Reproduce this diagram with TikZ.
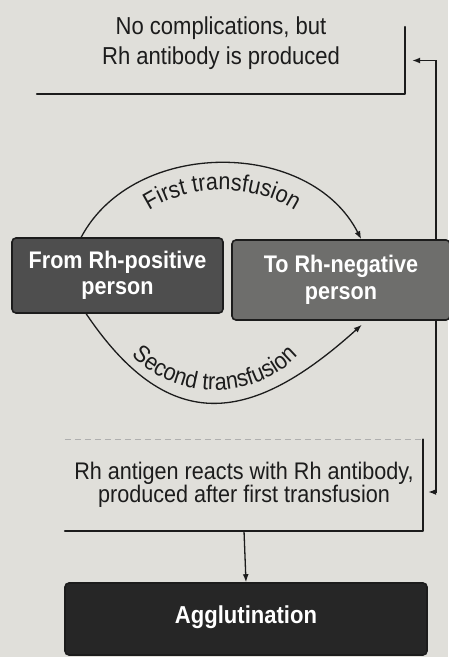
\documentclass[tikz,border=0pt]{standalone}
\usepackage{fontspec}
\setmainfont{Liberation Sans}[FakeStretch=0.9]
\usetikzlibrary{arrows.meta,decorations.text,calc}
\pgfdeclarelayer{paper}
\pgfdeclarelayer{background}
\pgfsetlayers{paper,background,main}

\definecolor{paper}{HTML}{E0DFDA}
\definecolor{ink}{HTML}{1C1C1C}
\definecolor{donorfill}{HTML}{4E4E4E}
\definecolor{recipfill}{HTML}{6E6E6C}
\definecolor{resultfill}{HTML}{262626}

\tikzset{
  label text/.style={align=center, text=ink, inner sep=0pt},
  dark box/.style={rounded corners=4pt, draw=ink, line width=1.6pt, text=white,
    align=center, inner sep=0pt, font=\bfseries\fontsize{24}{26.5}\selectfont},
  frame edge/.style={draw=ink, line width=1.8pt, line cap=round, line join=round},
  flow/.style={draw=ink, line width=1.3pt, -{Latex[length=8pt,width=6pt]}},
  rail/.style={draw=ink, line width=1.4pt,
    {Latex[length=8pt,width=6pt]}-{Latex[length=8pt,width=6pt]}},
}

\begin{document}
\begin{tikzpicture}[x=1pt,y=1pt]
\useasboundingbox (0,0) rectangle (448,657);
\begin{pgfonlayer}{paper}
  \fill[paper] (0,0) rectangle (448,657);
\end{pgfonlayer}

% outcome of the first transfusion
\node[label text, font=\fontsize{24.5}{30}\selectfont] (nocomp) at (221,613.5)
  {No complications, but\\Rh antibody is produced};
\node[minimum width=368pt, minimum height=67pt, inner sep=0pt] (nocompframe) at (221,596.5) {};
\draw[frame edge] (nocompframe.south west) -- (nocompframe.south east) -- (nocompframe.north east);

% donor and recipient
\node[dark box, fill=donorfill, minimum width=211pt, minimum height=75pt] (donor) at (117.5,381.5)
  {From Rh-positive\\person};
\node[dark box, fill=recipfill, minimum width=218pt, minimum height=80pt] (recip) at (341,377)
  {To Rh-negative\\person};

% outcome of the second transfusion
\node[label text, font=\fontsize{24}{23.5}\selectfont, minimum width=358pt, minimum height=91pt] (react) at (244,172)
  {Rh antigen reacts with Rh antibody,\\produced after first transfusion};
\draw[ink!35, line width=0.8pt, dash pattern=on 6pt off 4pt] (react.north west) -- (react.north east);
\draw[frame edge] (react.south west) -- (react.south east) -- (react.north east);

\node[dark box, fill=resultfill, font=\bfseries\fontsize{24.5}{26}\selectfont,
  minimum width=362pt, minimum height=72pt] (result) at (246,38)
  {\raisebox{8pt}{Agglutination}};

\coordinate (railfoot) at (436,165);

\begin{pgfonlayer}{background}
  % the two transfusions
  \draw[flow] ($(donor.north west)+(70,0)$) to[out=62,in=117,looseness=1.03]
    ($(recip.north west)+(130,0)$);
  \draw[flow, shorten >=6pt] ($(donor.south west)+(75,0)$) to[out=-56,in=-138,looseness=1.38]
    ($(recip.south west)+(135,0)$);
  % feedback rail on the right
  \draw[rail, shorten <=7pt, shorten >=5pt] (nocompframe.east) -| (railfoot) -- (railfoot -| react.east);
  \draw[flow] (react.south) -- (result.north);
\end{pgfonlayer}

% curved labels
\path[decorate, decoration={text along path, text align=center,
    text={|\fontsize{24}{24}\selectfont\color{ink}|First transfusion}}]
  (222,372) ++(170:118 and 95) arc[start angle=170, end angle=10, x radius=118, y radius=95];
\path[decorate, decoration={text along path, text align=center,
    text={|\fontsize{24}{24}\selectfont\color{ink}|Second transfusion}}]
  (215,367) ++(190:110 and 100) arc[start angle=190, end angle=350, x radius=110, y radius=100];
\end{tikzpicture}
\end{document}
